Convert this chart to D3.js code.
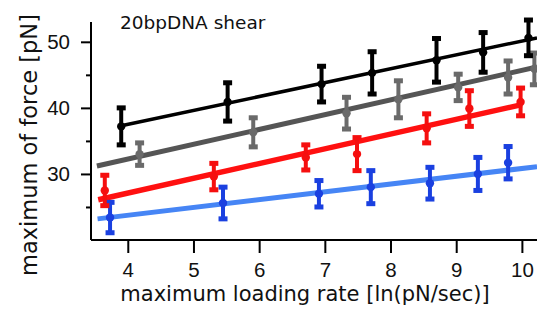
<!DOCTYPE html>
<html>
<head>
<meta charset="utf-8">
<script src="https://cdn.jsdelivr.net/npm/d3@7"></script>
<style>
  html, body { margin: 0; padding: 0; background: #fff; }
  svg { display: block; font-family: "DejaVu Sans", Verdana, sans-serif; }
</style>
</head>
<body>
<div id="chart"></div>
<script>
const xTicks = [4, 5, 6, 7, 8, 9, 10];
const yMajor = [30, 40, 50];
const yMinor = [25, 35, 45];

const blackX = [3.90, 5.52, 6.95, 7.72, 8.70, 9.41, 10.10];
const blackY = [37.2, 40.9, 43.6, 45.3, 47.2, 48.4, 50.6];
const blackErr = [2.8, 2.9, 2.7, 3.2, 3.3, 3.0, 2.7];
const blackFit = [[3.90, 37.3], [10.23, 50.6]];

const grayX = [4.18, 5.91, 7.33, 8.12, 9.03, 9.79, 10.19];
const grayY = [33.0, 36.3, 39.2, 41.3, 43.1, 44.6, 45.9];
const grayErr = [1.7, 2.2, 2.4, 2.8, 2.0, 2.5, 2.4];
const grayFit = [[3.53, 31.2], [10.23, 46.2]];

const redX = [3.65, 5.31, 6.71, 7.49, 8.55, 9.20, 9.98];
const redY = [27.5, 29.6, 32.5, 33.0, 36.9, 39.9, 40.9];
const redErr = [2.3, 2.0, 1.9, 2.5, 2.2, 2.7, 2.1];
const redFit = [[3.55, 26.1], [10.0, 40.5]];

const blueX = [3.73, 5.45, 6.91, 7.70, 8.60, 9.33, 9.79];
const blueY = [23.4, 25.6, 27.0, 28.0, 28.6, 30.0, 31.7];
const blueErr = [2.3, 2.4, 2.0, 2.5, 2.4, 2.5, 2.45];
const blueFit = [[3.54, 23.2], [10.23, 31.1]];

const series = [
  { xs: blueX, ys: blueY, err: blueErr, fit: blueFit, line: "#4685f5", mark: "#1a40e0", lw: 5 },
  { xs: redX, ys: redY, err: redErr, fit: redFit, line: "#ff1010", mark: "#f50f0f", lw: 5.5 },
  { xs: grayX, ys: grayY, err: grayErr, fit: grayFit, line: "#555555", mark: "#6a6a6a", lw: 5 },
  { xs: blackX, ys: blackY, err: blackErr, fit: blackFit, line: "#000000", mark: "#000000", lw: 3.5 },
];

const width = 537, height = 320;
const svg = d3.select("#chart").append("svg").attr("width", width).attr("height", height);

const x = d3.scaleLinear().domain([3.44, 10.23]).range([91, 537]);
const y = d3.scaleLinear().domain([20, 53]).range([240, 22]);

// axes
const xAxis = svg.append("g").attr("transform", `translate(0,${y(20)})`)
  .call(d3.axisBottom(x).tickValues(xTicks).tickSize(13).tickPadding(9).tickFormat(d3.format("d")));
const yAxis = svg.append("g").attr("transform", `translate(${x(3.44)},0)`)
  .call(d3.axisLeft(y).tickValues(yMajor).tickSize(10).tickPadding(11).tickFormat(d3.format("d")));
svg.append("g").attr("transform", `translate(${x(3.44)},0)`)
  .call(d3.axisLeft(y).tickValues(yMinor).tickSize(5).tickFormat(""))
  .call((g) => g.select(".domain").remove());

xAxis.select(".domain").attr("d", `M${x(3.44)},0H${x(10.23)}`);
yAxis.select(".domain").attr("d", `M0,${y(53)}V${y(20)}`);
svg.selectAll(".domain").attr("stroke-width", 2);
svg.selectAll(".tick line").attr("stroke-width", 2);
svg.selectAll(".tick text").attr("font-size", 20.5).attr("fill", "#111");

// fit lines
const plot = svg.append("g");
plot.selectAll("line.fit")
  .data(series)
  .join("line")
  .attr("class", "fit")
  .attr("x1", (d) => x(d.fit[0][0]))
  .attr("y1", (d) => y(d.fit[0][1]))
  .attr("x2", (d) => x(d.fit[1][0]))
  .attr("y2", (d) => y(d.fit[1][1]))
  .attr("stroke", (d) => d.line)
  .attr("stroke-width", (d) => d.lw);

// error bars + markers
series.forEach((s) => {
  const pts = s.xs.map((v, i) => ({ x: v, y: s.ys[i], e: s.err[i] }));
  const g = plot.append("g").attr("fill", s.mark).attr("stroke", s.mark);
  g.selectAll("line.bar").data(pts).join("line")
    .attr("x1", (d) => x(d.x)).attr("x2", (d) => x(d.x))
    .attr("y1", (d) => y(d.y + d.e)).attr("y2", (d) => y(d.y - d.e))
    .attr("stroke-width", 4);
  g.selectAll("rect.capTop").data(pts).join("rect")
    .attr("x", (d) => x(d.x) - 4.5).attr("y", (d) => y(d.y + d.e) - 2.5)
    .attr("width", 9).attr("height", 5).attr("stroke", "none");
  g.selectAll("rect.capBot").data(pts).join("rect")
    .attr("x", (d) => x(d.x) - 4.5).attr("y", (d) => y(d.y - d.e) - 2.5)
    .attr("width", 9).attr("height", 5).attr("stroke", "none");
  g.selectAll("circle").data(pts).join("circle")
    .attr("cx", (d) => x(d.x)).attr("cy", (d) => y(d.y))
    .attr("r", 4.2).attr("stroke", "none");
});

// labels
svg.append("text").attr("x", 120).attr("y", 29).attr("font-size", 18.5).attr("fill", "#111")
  .text("20bpDNA shear");
svg.append("text").attr("x", 305).attr("y", 301).attr("text-anchor", "middle")
  .attr("font-size", 21).attr("fill", "#111")
  .text("maximum loading rate [ln(pN/sec)]");
svg.append("text").attr("transform", "translate(37,145) rotate(-90)").attr("text-anchor", "middle")
  .attr("font-size", 22.5).attr("fill", "#111")
  .text("maximum of force [pN]");
</script>
</body>
</html>
